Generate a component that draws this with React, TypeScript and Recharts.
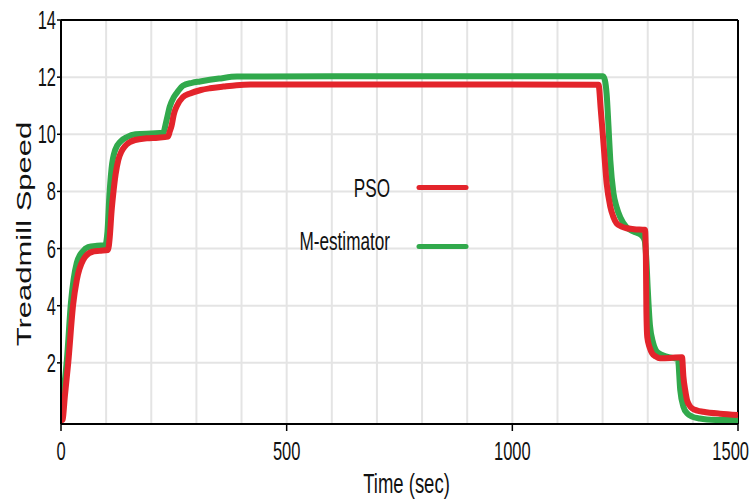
import { LineChart, Line, XAxis, YAxis, CartesianGrid, ReferenceLine, Legend } from "recharts";

// M-estimator (green) trace
const mestTime = [
  0, 6, 13, 22, 35, 48, 60, 80, 98, 103, 107, 112, 120, 132, 146, 165, 200, 226, 234, 241, 250, 259, 270,
  290, 308, 350, 390, 600, 900, 1201, 1205, 1209, 1213, 1217, 1224, 1231, 1239, 1253, 1268, 1287, 1293,
  1297, 1300, 1305, 1312, 1323, 1342, 1367, 1372, 1379, 1388, 1398, 1415, 1431, 1470, 1500,
];
const mestSpeed = [
  0, 1.0, 2.1, 4.1, 5.5, 5.9, 6.05, 6.1, 6.12, 6.6, 7.8, 8.8, 9.45, 9.75, 9.9, 10.0, 10.03, 10.05, 10.5,
  10.97, 11.3, 11.5, 11.7, 11.8, 11.85, 11.95, 12.02, 12.03, 12.03, 12.03, 11.9, 11.4, 10.3, 9.1, 7.95,
  7.45, 7.1, 6.75, 6.6, 6.45, 6.3, 5.6, 4.6, 3.3, 2.7, 2.35, 2.22, 2.12, 1.05, 0.47, 0.22, 0.12, 0.05,
  0.02, 0, 0,
];

// PSO (red) trace
const psoTime = [
  0, 3, 9, 16, 27, 35, 49, 68, 85, 104, 108, 112, 116, 121, 127, 134, 141, 152, 164, 190, 215, 237, 241,
  245, 250, 256, 270, 286, 310, 330, 360, 389, 420, 700, 1000, 1191, 1196, 1202, 1209, 1217, 1224, 1231,
  1242, 1253, 1270, 1294, 1296, 1297, 1299, 1304, 1310, 1318, 1327, 1350, 1376, 1379, 1383, 1387, 1392,
  1398, 1410, 1423, 1460, 1500,
];
const psoSpeed = [
  0, 0, 0.9, 2.0, 4.05, 4.9, 5.6, 5.88, 5.92, 5.95, 6.4, 7.3, 7.95, 8.6, 9.1, 9.4, 9.57, 9.72, 9.8, 9.86,
  9.88, 9.92, 10.1, 10.3, 10.7, 10.97, 11.3, 11.43, 11.55, 11.61, 11.67, 11.72, 11.74, 11.74, 11.74,
  11.73, 10.85, 9.68, 8.28, 7.47, 7.1, 6.88, 6.77, 6.71, 6.68, 6.66, 5.6, 3.85, 2.9, 2.55, 2.33, 2.22, 2.16,
  2.17, 2.2, 1.52, 1.05, 0.7, 0.52, 0.41, 0.33, 0.29, 0.22, 0.175,
];

const xTicks = [0, 500, 1000, 1500];
const yTicks = [2, 4, 6, 8, 10, 12, 14];
const xGrid = [100, 200, 300, 400, 500, 600, 700, 800, 900, 1000, 1100, 1200, 1300, 1400];
const yGrid = [2, 4, 6, 8, 10, 12];
const legendOrder = ["PSO", "M-estimator"];

const RED = "#e3242b";
const GREEN = "#31a94c";
const FONT = '"Liberation Sans", Arial, sans-serif';
const SQUEEZE = 0.66; // the reference text is horizontally condensed

const mestData = mestTime.map((t, i) => ({ t, v: mestSpeed[i] }));
const psoData = psoTime.map((t, i) => ({ t, v: psoSpeed[i] }));

function XTick({ x, y, payload }: any) {
  // last label is pushed in so it stays on the page
  const last = payload.value === xTicks[xTicks.length - 1];
  return (
    <text
      transform={`translate(${last ? x + 13 : x},${y + 27}) scale(${SQUEEZE},1)`}
      textAnchor={last ? "end" : "middle"}
      fontSize={25}
      fontFamily={FONT}
      fill="#111"
    >
      {payload.value}
    </text>
  );
}

function YTick({ x, y, payload }: any) {
  return (
    <text transform={`translate(${x + 1},${y + 9}) scale(${SQUEEZE},1)`} textAnchor="end" fontSize={25} fontFamily={FONT} fill="#111">
      {payload.value}
    </text>
  );
}

function XTitle({ viewBox }: any) {
  const cx = viewBox.x + viewBox.width / 2 + 7;
  return (
    <text transform={`translate(${cx},${viewBox.y + 69}) scale(${SQUEEZE},1)`} textAnchor="middle" fontSize={28} fontFamily={FONT} fill="#111">
      Time (sec)
    </text>
  );
}

function YTitle({ viewBox }: any) {
  const cy = viewBox.y + viewBox.height / 2 + 12;
  return (
    <text transform={`translate(31,${cy}) scale(${SQUEEZE},1) rotate(-90)`} textAnchor="middle" fontSize={31} fontFamily={FONT} fill="#111">
      Treadmill Speed
    </text>
  );
}

function LegendBox({ payload }: any) {
  const items = [...(payload || [])].sort((a: any, b: any) => legendOrder.indexOf(a.value) - legendOrder.indexOf(b.value));
  return (
    <svg width={200} height={110}>
      {items.map((p: any, i: number) => {
        const base = i === 0 ? 37 : 90;
        const ly = i === 0 ? 27.5 : 86.5;
        return (
          <g key={p.value}>
            <text transform={`translate(110,${base}) scale(${SQUEEZE},1)`} textAnchor="end" fontSize={26} fontFamily={FONT} fill="#111">
              {p.value}
            </text>
            <line x1={139} x2={186} y1={ly} y2={ly} stroke={p.color} strokeWidth={5} strokeLinecap="round" />
          </g>
        );
      })}
    </svg>
  );
}

export default function App() {
  return (
    <div style={{ position: "absolute", left: 0, top: 0, background: "#fff" }}>
      <LineChart width={752} height={499} margin={{ top: 20, right: 14, left: 0, bottom: 0 }}>
        <CartesianGrid stroke="#e4e4e4" strokeWidth={2} verticalValues={xGrid} horizontalValues={yGrid} />
        <XAxis
          type="number"
          dataKey="t"
          domain={[0, 1500]}
          ticks={xTicks}
          allowDataOverflow
          height={75}
          axisLine={{ stroke: "#000", strokeWidth: 2 }}
          tickLine={{ stroke: "#000", strokeWidth: 1.5 }}
          tickSize={7}
          tick={<XTick />}
          label={{ value: "Time (sec)", content: <XTitle /> }}
        />
        <YAxis
          type="number"
          domain={[-0.14, 14]}
          ticks={yTicks}
          allowDataOverflow
          width={61}
          axisLine={{ stroke: "#000", strokeWidth: 2 }}
          tickLine={{ stroke: "#000", strokeWidth: 1.5 }}
          tickSize={4}
          tick={<YTick />}
          label={{ value: "Treadmill Speed", content: <YTitle /> }}
        />
        <ReferenceLine y={14} stroke="#000" strokeWidth={2} />
        <ReferenceLine x={1500} stroke="#000" strokeWidth={2} />
        <Legend
          layout="horizontal"
          verticalAlign="middle"
          align="center"
          content={<LegendBox />}
          wrapperStyle={{ left: 280, top: 160, width: 200, height: 110, bottom: "auto", right: "auto" }}
        />
        <Line
          data={mestData}
          dataKey="v"
          name="M-estimator"
          type="monotone"
          stroke={GREEN}
          strokeWidth={6}
          dot={false}
          isAnimationActive={false}
        />
        <Line
          data={psoData}
          dataKey="v"
          name="PSO"
          type="monotone"
          stroke={RED}
          strokeWidth={6}
          dot={false}
          isAnimationActive={false}
        />
      </LineChart>
    </div>
  );
}
